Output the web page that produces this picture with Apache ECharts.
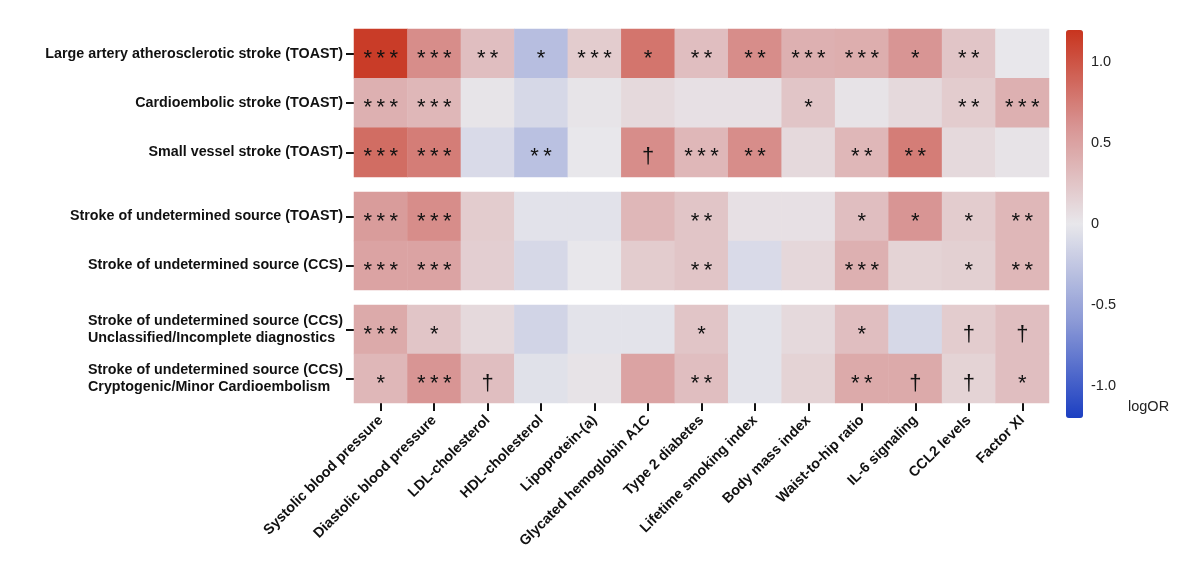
<!DOCTYPE html>
<html>
<head>
<meta charset="utf-8">
<script src="https://cdn.jsdelivr.net/npm/echarts@6/dist/echarts.min.js"></script>
<style>
  html, body { margin: 0; padding: 0; background: #fff; }
  #chart { width: 1192px; height: 564px; }
</style>
</head>
<body>
<div id="chart"></div>
<script>
// exposures (columns)
var exposures = ["Systolic blood pressure", "Diastolic blood pressure", "LDL-cholesterol", "HDL-cholesterol",
  "Lipoprotein-(a)", "Glycated hemoglobin A1C", "Type 2 diabetes", "Lifetime smoking index",
  "Body mass index", "Waist-to-hip ratio", "IL-6 signaling", "CCL2 levels", "Factor XI"];

// outcomes, split in three panels
var outcomesA = ["Large artery atherosclerotic stroke (TOAST)", "Cardioembolic stroke (TOAST)", "Small vessel stroke (TOAST)"];
var outcomesB = ["Stroke of undetermined source (TOAST)", "Stroke of undetermined source (CCS)"];
var outcomesC = ["Stroke of undetermined source (CCS)\nUnclassified/Incomplete diagnostics",
  "Stroke of undetermined source (CCS)\nCryptogenic/Minor Cardioembolism"];

// logOR per outcome row
var logorA = [
  [1.15, 0.65, 0.30, -0.32, 0.20, 0.80, 0.30, 0.65, 0.40, 0.42, 0.60, 0.25, 0.00],
  [0.40, 0.35, 0.02, -0.12, 0.02, 0.10, 0.05, 0.05, 0.25, 0.03, 0.10, 0.20, 0.40],
  [0.85, 0.75, -0.10, -0.30, 0.00, 0.65, 0.35, 0.65, 0.10, 0.35, 0.75, 0.10, 0.03]
];
var logorB = [
  [0.55, 0.65, 0.20, -0.04, -0.04, 0.35, 0.25, 0.05, 0.05, 0.30, 0.60, 0.20, 0.35],
  [0.50, 0.50, 0.18, -0.12, 0.00, 0.20, 0.25, -0.10, 0.12, 0.40, 0.15, 0.17, 0.35]
];
var logorC = [
  [0.45, 0.25, 0.10, -0.15, -0.03, -0.03, 0.25, -0.03, 0.10, 0.30, -0.12, 0.20, 0.30],
  [0.35, 0.60, 0.30, -0.05, 0.03, 0.50, 0.30, -0.03, 0.15, 0.45, 0.45, 0.15, 0.30]
];

// significance marks
var sigA = [
  ["***", "***", "**", "*", "***", "*", "**", "**", "***", "***", "*", "**", ""],
  ["***", "***", "", "", "", "", "", "", "*", "", "", "**", "***"],
  ["***", "***", "", "**", "", "†", "***", "**", "", "**", "**", "", ""]
];
var sigB = [
  ["***", "***", "", "", "", "", "**", "", "", "*", "*", "*", "**"],
  ["***", "***", "", "", "", "", "**", "", "", "***", "", "*", "**"]
];
var sigC = [
  ["***", "*", "", "", "", "", "*", "", "", "*", "", "†", "†"],
  ["*", "***", "†", "", "", "", "**", "", "", "**", "†", "†", "*"]
];

var colorbarTicks = [-1, -0.5, 0, 0.5, 1];

var font = "Liberation Sans, Arial, sans-serif";

function cells(vals, sig) {
  var out = [];
  vals.forEach(function (row, r) {
    row.forEach(function (v, c) {
      out.push([c, r, v, sig[r][c]]);
    });
  });
  return out;
}

function spaced(s) {
  return s.split("").join("\u2009");
}

var grids = [
  { left: 354, width: 695, top: 29, height: 148 },
  { left: 354, width: 695, top: 192, height: 98 },
  { left: 354, width: 695, top: 305, height: 98 },
  { left: 1083, width: 1, top: 30, height: 388 }
];

var xAxes = [0, 1, 2].map(function (i) {
  return {
    type: "category", gridIndex: i, data: exposures,
    axisLine: { show: false },
    axisTick: { show: i === 2, alignWithLabel: true, length: 8, lineStyle: { color: "#111", width: 2 } },
    axisLabel: {
      show: i === 2, rotate: 45, interval: 0, margin: 15,
      fontFamily: font, fontWeight: "bold", fontSize: 14.3, color: "#111"
    },
    splitLine: { show: false }
  };
});
xAxes.push({ type: "value", gridIndex: 3, show: false });

function yCat(i, data, leftAlign) {
  return {
    type: "category", gridIndex: i, data: data, inverse: true,
    axisLine: { show: false },
    axisTick: { show: true, alignWithLabel: true, length: 8, lineStyle: { color: "#111", width: 2 } },
    axisLabel: {
      interval: 0, margin: leftAlign ? 266 : 11, align: leftAlign ? "left" : "right",
      fontFamily: font, fontWeight: "bold", fontSize: 14.3, color: "#111", lineHeight: 17
    },
    splitLine: { show: false }
  };
}

var yAxes = [yCat(0, outcomesA, false), yCat(1, outcomesB, false), yCat(2, outcomesC, true)];
yAxes.push({
  type: "value", gridIndex: 3, min: -1.2, max: 1.2, position: "left",
  axisLine: { show: false }, axisTick: { show: false }, splitLine: { show: false },
  axisLabel: {
    customValues: colorbarTicks, margin: -8, align: "left",
    fontFamily: font, fontSize: 14.5, color: "#222",
    formatter: function (v) { return v === 0 ? "0" : v.toFixed(1); }
  }
});

function heat(i, vals, sig) {
  return {
    type: "heatmap", xAxisIndex: i, yAxisIndex: i,
    data: cells(vals, sig),
    itemStyle: { borderWidth: 0 },
    label: {
      show: true, fontFamily: font, fontSize: 22, color: "#111", offset: [0, 5],
      formatter: function (p) { return spaced(p.value[3]); }
    },
    emphasis: { disabled: true }
  };
}

var chart = echarts.init(document.getElementById("chart"));
chart.setOption({
  animation: false,
  backgroundColor: "#fff",
  grid: grids,
  xAxis: xAxes,
  yAxis: yAxes,
  visualMap: {
    type: "continuous", min: -1.2, max: 1.2, dimension: 2,
    seriesIndex: [0, 1, 2],
    left: 1066, top: 30, itemWidth: 17, itemHeight: 388,
    calculable: false, text: ["", ""], padding: 0,
    inRange: { color: ["#1c3fc2", "#8c9ad6", "#e8e7eb", "#d89594", "#c8341e"] }
  },
  graphic: [{
    type: "text", left: 1128, top: 399,
    style: { text: "logOR", fontFamily: font, fontSize: 14.5, fill: "#222" }
  }],
  series: [heat(0, logorA, sigA), heat(1, logorB, sigB), heat(2, logorC, sigC)]
});
</script>
</body>
</html>
